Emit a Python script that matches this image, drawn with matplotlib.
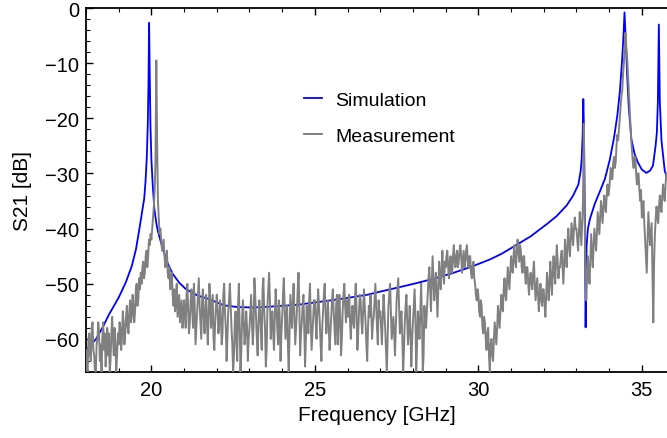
import numpy as np
import matplotlib
matplotlib.use("Agg")
import matplotlib.pyplot as plt
from matplotlib.ticker import MultipleLocator

plt.rcParams['font.family'] = ['Liberation Sans', 'DejaVu Sans']

# ---------------- data ----------------
# Simulation (smooth curve)
sim_freq = [18.0, 18.31, 18.5, 18.71, 19.0, 19.22, 19.4, 19.53, 19.62, 19.68,
            19.74, 19.78, 19.82, 19.86, 19.89, 19.91, 19.93, 19.95, 19.97, 20.0,
            20.04, 20.09, 20.15, 20.2, 20.35, 20.5, 20.65, 20.85, 21.06, 21.4,
            21.77, 22.21, 22.6, 23.03, 23.5, 24.0, 24.5, 24.86, 25.5, 26.07,
            26.6, 27.09, 27.6, 28.1, 28.62, 29.2, 29.74, 30.05, 30.35, 30.7,
            31.07, 31.6, 32.09, 32.4, 32.7, 32.9, 33.06, 33.13, 33.16, 33.19,
            33.21, 33.23, 33.26, 33.28, 33.30, 33.31, 33.35, 33.41, 33.56, 33.7,
            33.87, 34.02, 34.15, 34.25, 34.33, 34.39, 34.43, 34.47, 34.51, 34.55,
            34.6, 34.68, 34.78, 34.88, 35.0, 35.14, 35.25, 35.34, 35.42, 35.46,
            35.49, 35.52, 35.55, 35.6, 35.7, 35.8]
sim_db = [-62.1, -60.0, -58.0, -55.5, -52.5, -49.7, -46.8, -43.7, -40.5, -38.3,
          -36.0, -34.6, -31.5, -27.0, -21.0, -14.0, -2.7, -12.0, -21.0, -27.5,
          -32.0, -36.4, -39.0, -40.5, -43.7, -46.3, -48.2, -49.8, -51.0, -52.1,
          -52.8, -53.9, -54.2, -54.3, -54.2, -54.0, -53.8, -53.5, -53.0, -52.5,
          -52.0, -51.3, -50.6, -49.9, -49.1, -48.1, -47.0, -46.3, -45.6, -44.6,
          -43.3, -41.4, -39.2, -37.7, -35.8, -34.0, -32.0, -29.5, -27.4, -23.0,
          -16.5, -22.0, -40.0, -57.9, -48.0, -43.1, -40.0, -38.3, -35.5, -33.5,
          -31.0, -27.5, -23.5, -19.5, -15.0, -10.0, -6.0, -0.8, -6.0, -12.0,
          -18.0, -23.8, -26.5, -28.0, -29.3, -29.9, -29.5, -28.6, -25.0, -22.5,
          -17.0, -3.0, -17.0, -24.0, -29.5, -31.5]

# Measurement: 18.000 ... 35.750 GHz, 0.025 GHz apart
meas_start = 18.0
meas_step = 0.025
meas_db = [
    # 18.000 - 18.975
    -62, -65, -66, -60, -59, -63, -64, -58, -57, -62, -63, -66, -66, -61, -60, -57, -59, -64, -61, -66,
    -60, -57, -62, -59, -65, -62, -58, -63, -59, -66, -64, -59, -56, -60, -63, -58, -61, -66, -63, -59,
    # 19.000 - 19.975
    -61, -57, -58, -62, -60, -55, -57, -61, -59, -56, -54, -58, -59, -55, -53, -57, -56, -52, -54, -57,
    -55, -51, -50, -54, -53, -49, -51, -48, -50, -47, -46, -49, -48, -45, -44, -47, -45, -42, -43, -41,
    # 20.000 - 20.975
    -42, -40, -38, -36, -33, -28, -9.5, -24, -35, -38, -41, -40, -42, -44, -43, -42, -45, -47, -46, -44,
    -48, -49, -47, -51, -50, -48, -52, -54, -51, -55, -53, -50, -56, -54, -52, -57, -55, -53, -58, -56,
    # 21.000 - 21.975
    -53, -56, -58, -52, -50, -55, -59, -57, -53, -51, -55, -58, -50, -54, -61, -58, -55, -52, -49, -54,
    -57, -60, -53, -51, -56, -59, -55, -52, -57, -61, -56, -50, -53, -58, -55, -52, -60, -62, -57, -54,
    # 22.000 - 22.975
    -52, -55, -59, -57, -53, -56, -61, -59, -52, -50, -55, -58, -64, -60, -55, -53, -50, -54, -58, -61,
    -66, -63, -57, -55, -61, -64, -54, -50, -58, -66, -62, -56, -53, -57, -61, -59, -55, -58, -64, -60,
    # 23.000 - 23.975
    -58, -55, -52, -57, -61, -58, -49, -52, -56, -60, -63, -57, -53, -55, -59, -62, -51, -49, -55, -58,
    -65, -62, -54, -51, -48, -53, -60, -57, -55, -59, -62, -56, -51, -54, -58, -61, -53, -56, -64, -59,
    # 24.000 - 24.975
    -56, -52, -49, -54, -60, -57, -54, -61, -66, -59, -52, -55, -58, -53, -50, -56, -61, -58, -55, -51,
    -48, -54, -63, -59, -57, -54, -52, -58, -65, -60, -54, -56, -59, -53, -50, -57, -62, -59, -56, -53,
    # 25.000 - 25.975
    -53, -57, -60, -55, -51, -54, -57, -61, -64, -58, -55, -52, -50, -55, -59, -56, -53, -58, -62, -59,
    -56, -53, -51, -55, -58, -61, -54, -52, -61, -57, -52, -56, -63, -60, -55, -52, -50, -54, -57, -53,
    # 26.000 - 26.975
    -56, -53, -52, -57, -60, -56, -54, -57, -58, -53, -50, -55, -62, -59, -55, -52, -53, -57, -59, -55,
    -51, -54, -57, -61, -64, -58, -54, -56, -52, -55, -60, -57, -56, -53, -50, -54, -58, -61, -53, -56,
    # 27.000 - 27.975
    -55, -58, -61, -56, -52, -55, -58, -62, -66, -60, -54, -52, -50, -55, -60, -58, -56, -59, -63, -58,
    -53, -51, -49, -54, -59, -56, -55, -60, -66, -62, -57, -54, -52, -57, -61, -58, -54, -59, -65, -60,
    # 28.000 - 28.975
    -57, -54, -51, -56, -66, -61, -55, -58, -60, -55, -50, -56, -66, -63, -54, -57, -58, -55, -52, -49,
    -47, -51, -55, -50, -45, -49, -53, -50, -48, -52, -56, -51, -46, -49, -51, -47, -44, -48, -50, -46,
    # 29.000 - 29.975
    -47, -45, -44, -47, -49, -46, -45, -48, -48, -45, -43, -46, -47, -45, -44, -47, -46, -44, -43, -45,
    -48, -46, -44, -47, -46, -44, -43, -46, -47, -45, -45, -48, -49, -47, -46, -49, -50, -52, -53, -51,
    # 30.000 - 30.975
    -52, -55, -56, -53, -54, -58, -59, -56, -57, -60, -62, -59, -58, -63, -66, -61, -60, -63, -64, -60,
    -57, -59, -61, -58, -54, -56, -58, -55, -52, -54, -55, -51, -49, -52, -53, -50, -47, -49, -51, -48,
    # 31.000 - 31.975
    -45, -47, -48, -45, -43, -46, -47, -44, -42, -44, -46, -43, -44, -47, -48, -45, -45, -48, -50, -47,
    -47, -50, -52, -49, -48, -50, -51, -48, -46, -50, -53, -51, -49, -52, -55, -52, -50, -53, -54, -51,
    # 32.000 - 32.975
    -51, -54, -56, -52, -48, -50, -53, -50, -46, -49, -52, -48, -45, -48, -50, -46, -43, -46, -49, -47,
    -47, -45, -44, -47, -50, -46, -42, -45, -47, -43, -40, -43, -45, -42, -39, -41, -43, -40, -38, -40,
    # 33.000 - 33.975
    -40, -42, -44, -41, -37, -40, -43, -39, -35, -21, -38, -48, -53, -49, -45, -48, -50, -46, -41, -44,
    -47, -43, -40, -42, -44, -41, -37, -39, -41, -38, -35, -37, -39, -36, -34, -36, -37, -34, -32, -34,
    # 34.000 - 34.975
    -33, -31, -29, -31, -31, -28, -27, -29, -28, -25, -23, -24, -22, -20, -18, -16, -15, -12, -10, -7,
    -4.5, -7, -9, -12, -15, -18, -21, -24, -26, -28, -29, -27, -27, -30, -32, -30, -30, -33, -35, -33,
    # 35.000 - 35.750
    -38, -36, -35, -39, -42, -45, -48, -42, -37, -40, -43, -41, -39, -48, -57, -46, -41, -38, -36, -38,
    -39, -36, -34, -36, -37, -34, -32, -34, -35, -32, -30,
]
meas_freq = meas_start + meas_step * np.arange(len(meas_db))

x_ticks = [20, 25, 30, 35]
y_ticks = [0, -10, -20, -30, -40, -50, -60]

# ---------------- plot ----------------
fig = plt.figure(figsize=(6.67, 4.39), dpi=100)
ax = fig.add_axes([86 / 667, 1 - 373 / 439, (668 - 86) / 667, (373 - 9) / 439])

sim_line, = ax.plot(sim_freq, sim_db, color='#0000ff', lw=1.3, zorder=2)
meas_line, = ax.plot(meas_freq, meas_db, color='#808080', lw=1.4, zorder=3)

ax.set_xlim(18, 35.8)
ax.set_ylim(-66, 0)
ax.set_xticks(x_ticks)
ax.set_yticks(y_ticks)
ax.xaxis.set_minor_locator(MultipleLocator(1))
ax.yaxis.set_minor_locator(MultipleLocator(2))

ax.spines['right'].set_visible(False)
for s in ['left', 'bottom', 'top']:
    ax.spines[s].set_linewidth(1.3)
ax.tick_params(axis='both', which='both', direction='in', labelsize=14.5, colors='black')
ax.tick_params(axis='x', which='both', top=True)
ax.tick_params(which='major', length=5, width=1.0)
ax.tick_params(which='minor', length=3, width=0.8)
ax.tick_params(axis='x', pad=6)
ax.tick_params(axis='y', pad=5)

ax.set_xlabel('Frequency [GHz]', fontsize=15, labelpad=4)
ax.set_ylabel('S21 [dB]', fontsize=15, labelpad=9)

ax.legend([sim_line, meas_line], ['Simulation', 'Measurement'],
          loc='upper left', bbox_to_anchor=(304 / 667, 1 - 92 / 439),
          bbox_transform=fig.transFigure, frameon=False, fontsize=14,
          handlelength=0.9, handletextpad=0.7, labelspacing=0.95,
          borderaxespad=0, borderpad=0)

fig.savefig('out.png', dpi=100)
